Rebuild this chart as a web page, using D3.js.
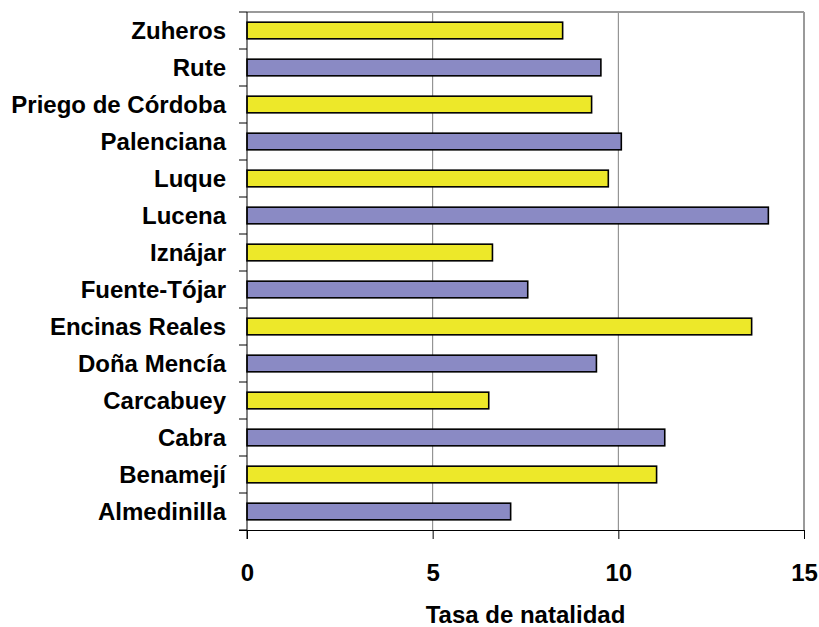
<!DOCTYPE html>
<html>
<head>
<meta charset="utf-8">
<script src="https://cdn.jsdelivr.net/npm/d3@7"></script>
<style>
  body { margin: 0; background: #fff; }
  svg { display: block; }
  text { font-family: "Liberation Sans", Arial, sans-serif; font-weight: bold; fill: #000; }
</style>
</head>
<body>
<svg id="chart" width="819" height="627"></svg>
<script>
// Data (bottom to top as in the original category axis)
const categories = ["Almedinilla", "Benamejí", "Cabra", "Carcabuey", "Doña Mencía", "Encinas Reales",
  "Fuente-Tójar", "Iznájar", "Lucena", "Luque", "Palenciana", "Priego de Córdoba", "Rute", "Zuheros"];
const values = [7.10, 11.03, 11.25, 6.51, 9.41, 13.59, 7.56, 6.61, 14.04, 9.73, 10.08, 9.28, 9.53, 8.50];
const xTicks = [0, 5, 10, 15];
const xTitle = "Tasa de natalidad";

const W = 819, H = 627;
const margin = { top: 12, right: 15, bottom: 97, left: 247 };
const svg = d3.select("#chart");
const g = svg.append("g").attr("transform", `translate(${margin.left},${margin.top})`);
const iw = W - margin.left - margin.right;
const ih = H - margin.top - margin.bottom;

const x = d3.scaleLinear().domain([0, 15]).range([0, iw]);
const y = d3.scaleBand().domain(categories.slice().reverse()).range([0, ih]).paddingInner(0.55).paddingOuter(0.275);
const yEdges = d3.scaleBand().domain(categories.slice().reverse()).range([0, ih]);
const color = d3.scaleOrdinal().domain([0, 1]).range(["#8a8ac4", "#ede829"]);

// gridlines
g.append("g").selectAll("line").data(xTicks.filter(t => t > 0 && t < 15)).join("line")
  .attr("x1", d => x(d)).attr("x2", d => x(d)).attr("y1", 0).attr("y2", ih)
  .attr("stroke", "#808080").attr("stroke-width", 1);

// top and right border
g.append("line").attr("x1", 0).attr("x2", iw).attr("y1", 0).attr("y2", 0)
  .attr("stroke", "#9a9a9a").attr("stroke-width", 2);
g.append("line").attr("x1", iw).attr("x2", iw).attr("y1", 0).attr("y2", ih)
  .attr("stroke", "#9a9a9a").attr("stroke-width", 2);

// bars
g.append("g").selectAll("rect").data(categories).join("rect")
  .attr("x", x(0))
  .attr("y", d => y(d))
  .attr("width", (d, i) => x(values[i]) - x(0))
  .attr("height", y.bandwidth())
  .attr("fill", (d, i) => color(i % 2))
  .attr("stroke", "#000").attr("stroke-width", 1.6);

// y axis
const yAxisG = g.append("g");
yAxisG.append("line").attr("x1", 0).attr("x2", 0).attr("y1", 0).attr("y2", ih + 9)
  .attr("stroke", "#000").attr("stroke-width", 1);
const edges = categories.slice().reverse().map(c => yEdges(c)).concat([ih]);
yAxisG.selectAll("line.tick").data(edges).join("line").attr("class", "tick")
  .attr("x1", -8).attr("x2", 0).attr("y1", d => d).attr("y2", d => d)
  .attr("stroke", "#000").attr("stroke-width", 1);
yAxisG.selectAll("text").data(categories).join("text")
  .attr("x", -21)
  .attr("y", d => yEdges(d) + yEdges.bandwidth() / 2)
  .attr("dy", "0.36em")
  .attr("text-anchor", "end")
  .attr("font-size", 24)
  .text(d => d);

// x axis
const xAxis = d3.axisBottom(x).tickValues(xTicks).tickSize(9).tickPadding(25).tickFormat(d3.format("d"));
const xAxisG = g.append("g").attr("transform", `translate(0,${ih})`).call(xAxis);
xAxisG.select(".domain").attr("d", `M-8,0.5H${iw}`).attr("stroke", "#000");
xAxisG.selectAll(".tick line").attr("stroke", "#000");
xAxisG.selectAll(".tick text").attr("font-size", 24).attr("font-family", "Liberation Sans, Arial, sans-serif").attr("font-weight", "bold").attr("fill", "#000");

g.append("text")
  .attr("x", iw / 2)
  .attr("y", ih + 93)
  .attr("text-anchor", "middle")
  .attr("font-size", 24)
  .text(xTitle);
</script>
</body>
</html>
